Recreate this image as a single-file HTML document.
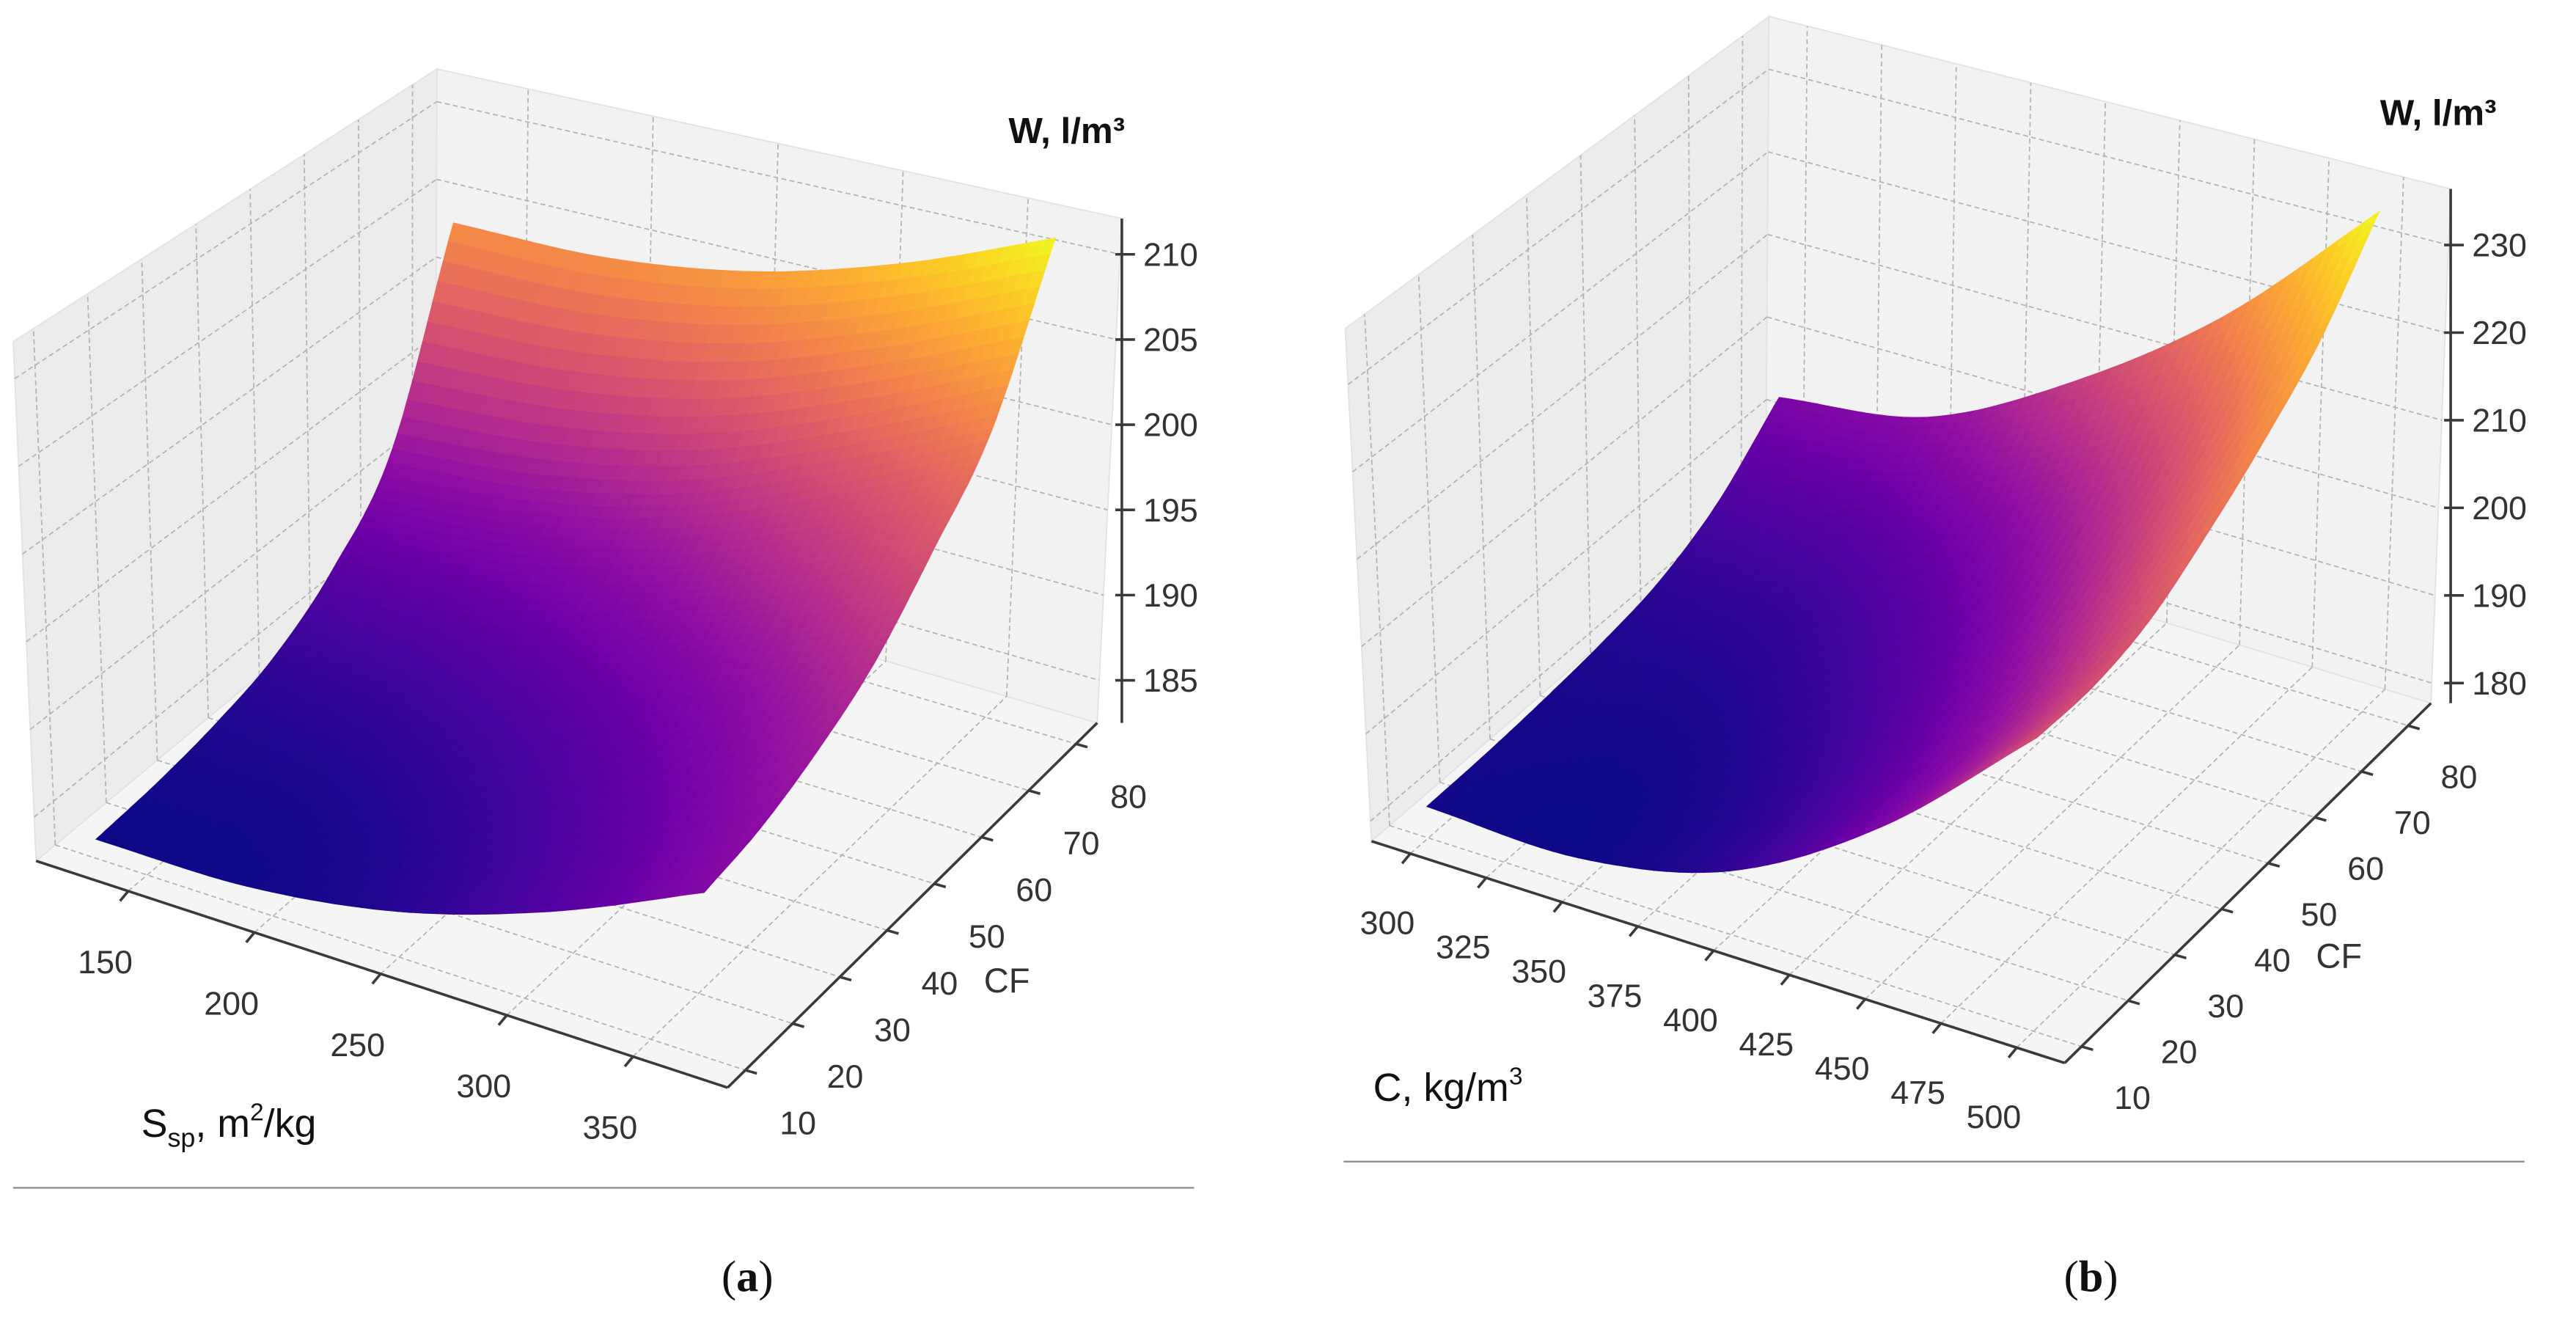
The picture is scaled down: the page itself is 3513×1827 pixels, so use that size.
<!DOCTYPE html>
<html><head><meta charset="utf-8"><style>
html,body{margin:0;padding:0;background:#fff;}
svg{display:block;}
</style></head><body>
<svg id="fig" xmlns="http://www.w3.org/2000/svg" width="3513" height="1827" viewBox="0 0 1568.3 815.6" font-family="Liberation Sans, sans-serif">
<rect width="1568.3" height="815.6" fill="#fff"/>
<g id="pa"></g>
<g id="pb"></g>
<line x1="8" y1="723" x2="727" y2="723" stroke="#8a8a8a" stroke-width="1"/>
<line x1="818" y1="707" x2="1537" y2="707" stroke="#8a8a8a" stroke-width="1"/>
<text x="455" y="786" text-anchor="middle" font-family="Liberation Serif, serif" font-size="27" fill="#111">(<tspan font-weight="bold">a</tspan>)</text>
<text x="1273" y="786" text-anchor="middle" font-family="Liberation Serif, serif" font-size="27" fill="#111">(<tspan font-weight="bold">b</tspan>)</text>
<text x="86" y="692" font-size="24" fill="#111">S<tspan font-size="16" dy="6">sp</tspan><tspan dy="-6">, m</tspan><tspan font-size="15" dy="-10">2</tspan><tspan dy="10">/kg</tspan></text>
<text x="836" y="670" font-size="24" fill="#111">C, kg/m<tspan font-size="15" dy="-10">3</tspan></text>
<text x="614" y="87" font-size="22" font-weight="bold" fill="#111">W, l/m³</text>
<text x="1449" y="76" font-size="22" font-weight="bold" fill="#111">W, l/m³</text>
</svg>
<script>
// ---- Panel (a) data ----
const aS = [130, 190, 250, 310, 370];
const aCF = [10, 21.67, 33.33, 45, 56.67, 68.33, 80];
const aW = [
  [183.6, 183.7, 185.0, 187.6, 191.1],
  [183.9, 184.1, 185.5, 188.2, 191.8],
  [184.5, 184.9, 186.5, 189.4, 193.2],
  [185.6, 186.3, 188.2, 191.3, 195.3],
  [188.0, 188.9, 191.1, 194.5, 198.8],
  [192.5, 193.4, 195.5, 199.0, 203.0],
  [203.9, 204.0, 205.3, 207.9, 211.4]
];
const aXTicks = [150, 200, 250, 300, 350];
const aYTicks = [10, 20, 30, 40, 50, 60, 70, 80];
const aZTicks = [185, 190, 195, 200, 205, 210];
// ---- Panel (b) data ----
const bC = [300, 350, 400, 450, 500];
const bCF = [10, 21.67, 33.33, 45, 56.67, 68.33, 80];
const bW = [
  [181.3, 180.9, 184.8, 194.9, 209.6],
  [181.5, 181.2, 185.2, 195.2, 209.6],
  [182.0, 182.1, 186.5, 196.8, 211.2],
  [182.8, 183.5, 188.7, 199.7, 215.0],
  [184.3, 185.6, 192.0, 203.6, 219.8],
  [187.8, 189.8, 197.2, 209.2, 225.8],
  [194.1, 196.8, 206.0, 218.4, 234.8]
];
const bXTicks = [300, 325, 350, 375, 400, 425, 450, 475, 500];
const bYTicks = [10, 20, 30, 40, 50, 60, 70, 80];
const bZTicks = [180, 190, 200, 210, 220, 230];

const NS = 'http://www.w3.org/2000/svg';
const plasma = [[13,8,135],[65,4,157],[106,0,168],[143,13,164],[177,42,144],[204,71,120],[225,100,98],[242,132,75],[252,166,54],[252,206,37],[240,249,33]];
function cmap(t){t=Math.max(0,Math.min(1,t));const s=t*10,i=Math.min(9,Math.floor(s)),f=s-i;const a=plasma[i],b=plasma[i+1];
  return 'rgb('+[0,1,2].map(k=>Math.round(a[k]+(b[k]-a[k])*f)).join(',')+')';}
function mk(tag,attrs,parent){const e=document.createElementNS(NS,tag);for(const k in attrs)e.setAttribute(k,attrs[k]);parent.appendChild(e);return e;}
function cr(p0,p1,p2,p3,t){const t2=t*t,t3=t2*t;
  return 0.5*((2*p1)+(-p0+p2)*t+(2*p0-5*p1+4*p2-p3)*t2+(-p0+3*p1-3*p2+p3)*t3);}
function crArr(arr,f){const n=arr.length;let i=Math.min(n-2,Math.max(0,Math.floor(f)));const t=f-i;
  const g=k=>{if(k<0)return 2*arr[0]-arr[1];if(k>n-1)return 2*arr[n-1]-arr[n-2];return arr[k];};
  return cr(g(i-1),g(i),g(i+1),g(i+2),t);}
function surfZ(W,fi,fj){ // fi along columns, fj along rows
  const col=W.map(r=>crArr(r,fi));return crArr(col,fj);}

function makePanel(g, cfg, X, Y, W, xt, yt, zt, pref){
  const C=cfg.c;
  const P=(u,v,w)=>{
    const bl=(k)=>{const a=C[k];return [(1-u)*(1-v)*a[0][0]+u*(1-v)*a[1][0]+u*v*a[2][0]+(1-u)*v*a[3][0],
      (1-u)*(1-v)*a[0][1]+u*(1-v)*a[1][1]+u*v*a[2][1]+(1-u)*v*a[3][1]];};
    const b=bl('bot'),t=bl('top');return [b[0]+(t[0]-b[0])*w,b[1]+(t[1]-b[1])*w];};
  const ux=x=>(x-cfg.xl[0])/(cfg.xl[1]-cfg.xl[0]);
  const vy=y=>(y-cfg.yl[0])/(cfg.yl[1]-cfg.yl[0]);
  const wz=z=>(z-cfg.zl[0])/(cfg.zl[1]-cfg.zl[0]);
  const pts=a=>a.map(p=>p[0].toFixed(1)+','+p[1].toFixed(1)).join(' ');
  let e;
  e=mk('polygon',{points:pts([P(0,0,0),P(0,1,0),P(0,1,1),P(0,0,1)]),fill:'#ececec',stroke:'#e2e2e2','stroke-width':0.8},g);
  
  
  e=mk('polygon',{points:pts([P(0,1,0),P(1,1,0),P(1,1,1),P(0,1,1)]),fill:'#f2f2f2',stroke:'#e2e2e2','stroke-width':0.8},g);
  
  
  e=mk('polygon',{points:pts([P(0,0,0),P(1,0,0),P(1,1,0),P(0,1,0)]),fill:'#f5f5f5',stroke:'#e2e2e2','stroke-width':0.8},g);
  
  
  const grid=mk('g',{stroke:'#b4b4b4','stroke-width':0.8,'stroke-dasharray':'3 2',fill:'none'},g);
  
  
  const ln=(p,q)=>mk('line',{x1:p[0],y1:p[1],x2:q[0],y2:q[1]},grid);
  yt.forEach(y=>{const v=vy(y);ln(P(0,v,0),P(0,v,1));ln(P(0,v,0),P(1,v,0));});
  xt.forEach(x=>{const u=ux(x);ln(P(u,1,0),P(u,1,1));ln(P(u,0,0),P(u,1,0));});
  zt.forEach(z=>{const w=wz(z);ln(P(0,0,w),P(0,1,w));ln(P(0,1,w),P(1,1,w));});
  let zmin=Infinity,zmax=-Infinity;W.forEach(r=>r.forEach(z=>{zmin=Math.min(zmin,z);zmax=Math.max(zmax,z);}));
  const surf=mk('g',{},g);
  
  
  const n=12;
  for(let j=Y.length-2;j>=0;j--){
    for(let sj=n-1;sj>=0;sj--){
      for(let i=0;i<X.length-1;i++){
        for(let si=0;si<n;si++){
          const corner=(a,b)=>{const fi=i+(si+a)/n,fj=j+(sj+b)/n;
            const z=surfZ(W,fi,fj);
            const fa=(si+a)/n,fb=(sj+b)/n;
            const x=X[i]+(X[i+1]-X[i])*fa,y=Y[j]+(Y[j+1]-Y[j])*fb;return {p:P(ux(x),vy(y),wz(z)),z:z};};
          const q=[corner(0,0),corner(1,0),corner(1,1),corner(0,1)];
          const zc=(q[0].z+q[1].z+q[2].z+q[3].z)/4;const col=cmap((zc-zmin)/(zmax-zmin));
          const cell=mk('polygon',{points:pts(q.map(o=>o.p)),fill:col,stroke:col,'stroke-width':0.5},surf);
          
          
        }
      }
    }
  }
  const ax=mk('g',{stroke:'#3a3a3a','stroke-width':1.6,fill:'none'},g);
  
  
  const axl=(p,q)=>mk('line',{x1:p[0],y1:p[1],x2:q[0],y2:q[1]},ax);
  axl(P(0,0,0),P(1,0,0)); axl(P(1,0,0),P(1,1,0));
  const zx=C.top[2][0];
  axl([zx,P(1,1,0)[1]],[zx,P(1,1,1)[1]]);
  const lab=mk('g',{'font-size':20,fill:'#333'},g);
  
  
  xt.forEach(x=>{const p=P(ux(x),0,0);axl(p,[p[0]-5,p[1]+6]);
    const t=mk('text',{x:p[0]+cfg.xo[0],y:p[1]+cfg.xo[1]+7,'text-anchor':'middle'},lab);t.textContent=x;
    
    });
  yt.forEach(y=>{const p=P(1,vy(y),0);axl(p,[p[0]+7,p[1]+2]);
    const t=mk('text',{x:p[0]+cfg.yo[0],y:p[1]+cfg.yo[1]+7,'text-anchor':'middle'},lab);t.textContent=y;
    
    });
  zt.forEach(z=>{const yy=P(1,1,wz(z))[1];axl([zx-4,yy],[zx+8,yy]);
    const t=mk('text',{x:zx+cfg.zo,y:yy+7,'text-anchor':'start'},lab);t.textContent=z;
    
    });
  const cf=mk('text',{x:cfg.cfl[0],y:cfg.cfl[1],'font-size':21,fill:'#333','text-anchor':'middle'},g);cf.textContent='CF';
  
  
}

const cfgA={c:{bot:[[22,524],[443,662],[668,440],[265,322]],top:[[8,208],[450,316],[683,133],[266,42]]},
  xl:[113.5,387.5],yl:[6.25,84.5],zl:[182.5,212.1],xo:[-14,43],yo:[32,32],zo:13,cfl:[613,604]};
const cfgB={c:{bot:[[835,512],[1257,647],[1480,428],[1075,305]],top:[[819,200],[1262,316],[1492,115],[1077,10]]},
  xl:[287.2,515.8],yl:[6.4,84.9],zl:[177.7,236.4],xo:[-14,42],yo:[31,31],zo:13,cfl:[1424,589]};
makePanel(document.getElementById('pa'),cfgA,aS,aCF,aW,aXTicks,aYTicks,aZTicks,'a');
makePanel(document.getElementById('pb'),cfgB,bC,bCF,bW,bXTicks,bYTicks,bZTicks,'b');
</script>
</body></html>
